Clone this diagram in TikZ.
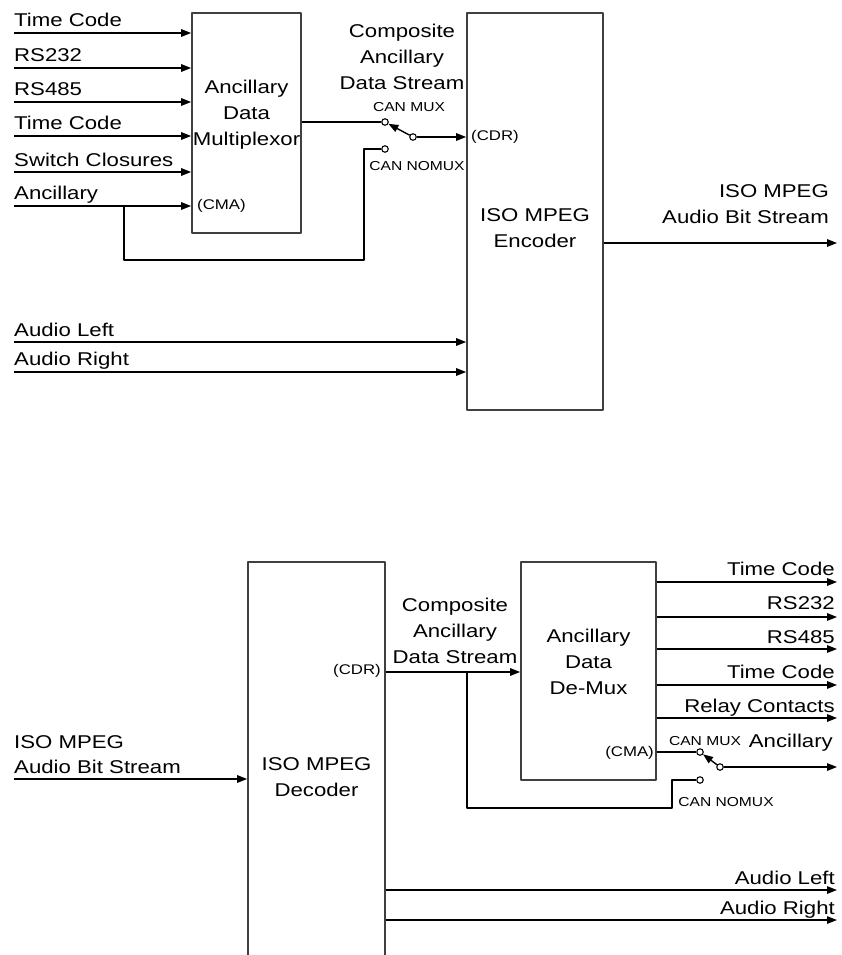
\documentclass[tikz,border=0pt]{standalone}
\usepackage{fontspec}
\setmainfont{Liberation Sans}[FakeStretch=1.2]
\usetikzlibrary{arrows.meta}
\newcommand\lblfont{\fontsize{18.5pt}{26pt}\selectfont}
\newcommand\midfont{\fontsize{14pt}{16pt}\selectfont}
\newcommand\swfont{\fontsize{13pt}{15pt}\selectfont}
\tikzset{
  blockbox/.style={draw=black!75, line width=1.6pt, inner sep=0pt},
  wire/.style={line width=1.4pt},
  sig/.style={font=\lblfont, inner sep=0pt, anchor=base west},
  sigr/.style={font=\lblfont, inner sep=0pt, anchor=base east},
  boxtext/.style={font=\lblfont, align=center, inner sep=0pt},
  portlbl/.style={font=\midfont, inner sep=0pt},
  swlbl/.style={font=\swfont, inner sep=0pt},
  contact/.style={circle, draw, fill=white, line width=1.1pt, minimum size=6.5pt, inner sep=0pt}
}
\begin{document}
\begin{tikzpicture}[x=1pt, y=-1pt, line join=round, >={Triangle[length=10pt,width=7.5pt]}]
	\useasboundingbox (0,0) rectangle (842,955);
	% encoder side
	\node[blockbox, minimum width=109, minimum height=220] (mux) at (246.5,123) {};
	\node[blockbox, minimum width=136, minimum height=397] (enc) at (535,211.5) {};
	\node[boxtext] (muxtext) at (246.5,115) {Ancillary\\Data\\Multiplexor};
	\node[boxtext] (enctext) at (535,228) {ISO MPEG\\Encoder};
	\node[boxtext] (comp1) at (402,57) {Composite\\Ancillary\\Data Stream};
	\coordinate (in1) at (14,33);
	\coordinate (in2) at (14,68);
	\coordinate (in3) at (14,102);
	\coordinate (in4) at (14,136);
	\coordinate (in5) at (14,172);
	\coordinate (in6) at (14,206);
	\draw[wire,->] (in1) -- (in1 -| mux.west);
	\draw[wire,->] (in2) -- (in2 -| mux.west);
	\draw[wire,->] (in3) -- (in3 -| mux.west);
	\draw[wire,->] (in4) -- (in4 -| mux.west);
	\draw[wire,->] (in5) -- (in5 -| mux.west);
	\draw[wire,->] (in6) -- (in6 -| mux.west);
	\node[sig] (lin1) at (14,27) {Time Code};
	\node[sig] (lin2) at (14,62) {RS232};
	\node[sig] (lin3) at (14,96) {RS485};
	\node[sig] (lin4) at (14,130) {Time Code};
	\node[sig] (lin5) at (14,166) {Switch Closures};
	\node[sig] (lin6) at (14,199) {Ancillary};
	\node[portlbl, anchor=west] (cma1) at (197,206) {(CMA)};
	% encoder switch
	\node[contact] (muxA) at (385,122) {};
	\node[contact] (muxP) at (413,137) {};
	\node[contact] (muxB) at (385,149) {};
	\node[swlbl] (mux1) at (409,107) {CAN MUX};
	\node[swlbl] (nomux1) at (417,166) {CAN NOMUX};
	\draw[wire] (muxA -| mux.east) -- (muxA);
	\draw[wire,->] (muxP) -- (muxA);
	\draw[wire,->] (muxP) -- (muxP -| enc.west);
	\node[portlbl, anchor=west] (cdr1) at (471,137) {(CDR)};
	\coordinate (tap1) at (124,206);
	\coordinate (bend1) at (364,260);
	\draw[wire] (tap1) |- (bend1) |- (muxB);
	% encoder audio
	\coordinate (aul) at (14,342);
	\coordinate (aur) at (14,372);
	\draw[wire,->] (aul) -- (aul -| enc.west);
	\draw[wire,->] (aur) -- (aur -| enc.west);
	\node[sig] (laul) at (14,336) {Audio Left};
	\node[sig] (laur) at (14,365) {Audio Right};
	\coordinate (bsout) at (837,243);
	\draw[wire,->] (bsout -| enc.east) -- (bsout);
	\node[sigr] (lbs1) at (829,197) {ISO MPEG};
	\node[sigr] (lbs2) at (829,223) {Audio Bit Stream};
	% decoder side
	\node[blockbox, minimum width=137, minimum height=410] (dec) at (316.5,767) {};
	\node[blockbox, minimum width=135, minimum height=218] (dem) at (588.5,671) {};
	\node[boxtext] (dectext) at (316.5,777) {ISO MPEG\\Decoder};
	\node[boxtext] (demtext) at (588.5,662) {Ancillary\\Data\\De-Mux};
	\node[boxtext] (comp2) at (455,631) {Composite\\Ancillary\\Data Stream};
	\coordinate (bsin) at (14,779);
	\draw[wire,->] (bsin) -- (bsin -| dec.west);
	\node[sig] (lbs3) at (14,748) {ISO MPEG};
	\node[sig] (lbs4) at (14,773) {Audio Bit Stream};
	\coordinate (tap2) at (467,672);
	\draw[wire,->] (tap2 -| dec.east) -- (tap2 -| dem.west);
	\node[portlbl, anchor=east] (cdr2) at (381,671) {(CDR)};
	\coordinate (out1) at (837,582);
	\coordinate (out2) at (837,617);
	\coordinate (out3) at (837,649);
	\coordinate (out4) at (837,685);
	\coordinate (out5) at (837,718);
	\draw[wire,->] (out1 -| dem.east) -- (out1);
	\draw[wire,->] (out2 -| dem.east) -- (out2);
	\draw[wire,->] (out3 -| dem.east) -- (out3);
	\draw[wire,->] (out4 -| dem.east) -- (out4);
	\draw[wire,->] (out5 -| dem.east) -- (out5);
	\node[sigr] (lout1) at (835,575) {Time Code};
	\node[sigr] (lout2) at (835,609) {RS232};
	\node[sigr] (lout3) at (835,643) {RS485};
	\node[sigr] (lout4) at (835,678) {Time Code};
	\node[sigr] (lout5) at (835,712) {Relay Contacts};
	% decoder switch
	\node[contact] (demA) at (700,752) {};
	\node[contact] (demP) at (720,767) {};
	\node[contact] (demB) at (700,780) {};
	\node[swlbl] (mux2) at (705,741) {CAN MUX};
	\node[swlbl] (nomux2) at (726,802) {CAN NOMUX};
	\node[portlbl, anchor=east] (cma2) at (654,753) {(CMA)};
	\draw[wire] (demA -| dem.east) -- (demA);
	\draw[wire,->] (demP) -- (demA);
	\coordinate (out6) at (837,767);
	\draw[wire,->] (demP) -- (out6);
	\node[sigr] (lout6) at (833,747) {Ancillary};
	\coordinate (bend2) at (672,808);
	\draw[wire] (tap2) |- (bend2) |- (demB);
	% decoder audio
	\coordinate (dol) at (837,890);
	\coordinate (dor) at (837,920);
	\draw[wire,->] (dol -| dec.east) -- (dol);
	\draw[wire,->] (dor -| dec.east) -- (dor);
	\node[sigr] (ldol) at (835,884) {Audio Left};
	\node[sigr] (ldor) at (835,914) {Audio Right};
\end{tikzpicture}
\end{document}
